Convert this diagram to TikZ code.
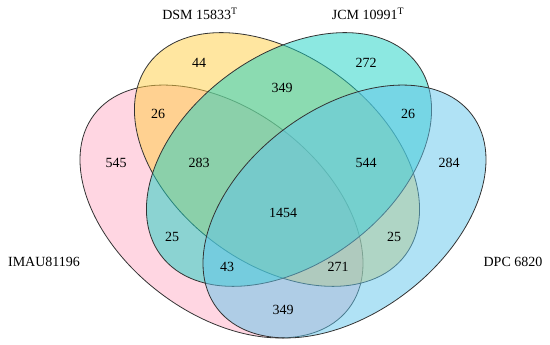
\documentclass[tikz,border=0pt]{standalone}
\usepackage{fontspec}
\setmainfont{Liberation Serif}
\definecolor{imaucol}{RGB}{255,173,197}
\definecolor{dsmcol}{RGB}{255,205,65}
\definecolor{jcmcol}{RGB}{25,209,195}
\definecolor{dpccol}{RGB}{97,197,235}
\newcommand{\setshape}[5]{%
  % colour, centre x, centre y, tilt, minor radius.
  \fill[#1,fill opacity=0.5,rotate around={#4:(#2,#3)}] (#2,#3) ellipse [x radius=160,y radius=#5];
  \draw[rim,rotate around={#4:(#2,#3)}] (#2,#3) ellipse [x radius=160,y radius=#5];
}

\begin{document}
\begin{tikzpicture}[x=1pt,y=1pt,
  rim/.style={draw=black!80,line width=0.8pt},
  count/.style={font=\fontsize{14}{16}\selectfont,inner sep=0pt},
  setname/.style={font=\fontsize{14}{16}\selectfont,inner sep=0pt}]
  \useasboundingbox (0,0) rectangle (550,345);
  \setshape{imaucol}{221.5}{133.5}{-37.3}{102}
  \setshape{dsmcol}{277}{185.5}{-36.7}{104}
  \setshape{jcmcol}{289}{185.5}{36.7}{104}
  \setshape{dpccol}{344.5}{133.5}{37.3}{102}
  % set names
  \node[setname] (dsm) at (200,331) {DSM 15833\textsuperscript{T}};
  \node[setname] (jcm) at (368,331) {JCM 10991\textsuperscript{T}};
  \node[setname] (imau) at (44,83) {IMAU81196};
  \node[setname] (dpc) at (513,83) {DPC 6820};
  % region counts
  \foreach \n/\x/\y [count=\i] in {44/199/282,349/282/257,272/366/282,
      26/158/231,26/408/231,545/116/182,283/199/182,544/366/182,284/449/182,
      1454/283/132,25/172/108,25/394/108,43/227/78,271/338/78,349/283/35}{
    \node[count] (r\i) at (\x,\y) {\n};
  }
\end{tikzpicture}
\end{document}
